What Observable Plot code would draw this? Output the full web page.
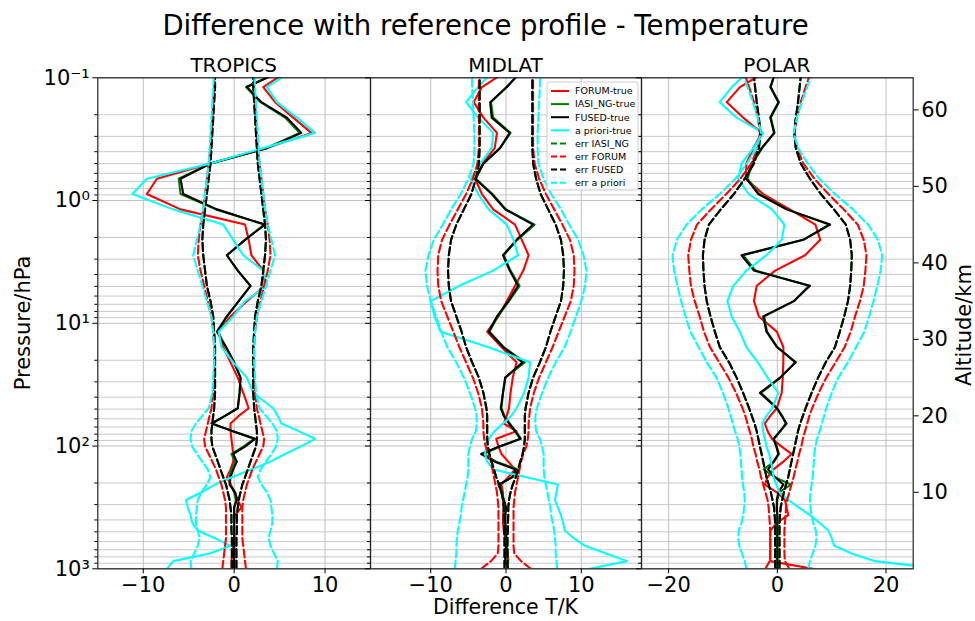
<!DOCTYPE html>
<html>
<head>
<meta charset="utf-8">
<script src="https://cdn.jsdelivr.net/npm/d3@7"></script>
<script src="https://cdn.jsdelivr.net/npm/@observablehq/plot@0.6"></script>
<style>
  html, body { margin: 0; padding: 0; background: #fff; }
  #fig { position: relative; width: 975px; height: 621px; font-family: "DejaVu Sans", sans-serif; }
  #fig svg { position: absolute; left: 0; top: 0; background: transparent; overflow: visible; }
</style>
</head>
<body>
<div id="fig"></div>
<script>
// Retrieval pressure levels (hPa), surface to top
const pressureLevels = [1000, 866, 751, 650, 563, 488, 423, 366, 317, 275, 238, 206, 179, 155, 134, 116, 101, 87.3, 75.6, 65.5, 56.8,
  49.2, 36.9, 27.7, 20.8, 15.6, 11.7, 8.79, 6.60, 4.95, 3.72, 2.79, 2.09, 1.57, 1.18, 0.885, 0.664, 0.499, 0.374, 0.281, 0.211, 0.158, 0.119, 0.089];

// TROPICS: retrieved minus true temperature (K)
const tropicsForum = [-0.3, -0.3, -0.2, -0.1, 0, 0, 0, 0.1, 0.8, 0.4, 0.1, -0.4, -0.8, -0.4, -0.1, -0.1, -0.2, -0.3, -0.4, -0.4, 0.5,
  1.6, 1.0, 0.4, -0.4, -1.2, -1.7, -0.4, 1.4, 3.4, 3.2, 1.9, 1.6, 1.2, -5.9, -9.6, -8.5, -2.6, 3.6, 8.5, 6.5, 4.5, 3.2, 5.8];
const tropicsIasi = [0, 0, 0, 0, 0, 0, 0, 0, 0, 0.2, 0.0, -0.4, -0.5, -0.3, 0.1, -0.3, 1.0, 2.2, -0.2, -2.4, -1.0,
  0.4, 0.6, 0.7, 0.0, -0.9, -1.8, -0.8, 0.5, 1.8, 0.4, -0.8, 1.2, 3.3, -2.0, -5.9, -6.1, -2.6, 3.5, 7.2, 5.6, 2.9, 1.3, 5.0];
const tropicsFused = [0, 0, 0, 0, 0, 0, 0, 0, 0, 0.3, 0.1, -0.5, -0.4, -0.1, 0.3, -0.1, 1.2, 2.3, -0.1, -2.5, -1.0,
  0.4, 0.6, 0.7, 0.0, -0.9, -1.9, -0.8, 0.5, 1.8, 0.4, -0.8, 1.2, 3.4, -1.9, -5.6, -5.9, -2.6, 3.6, 7.4, 5.8, 3.0, 1.4, 5.1];
const tropicsApriori = [-7.4, -6.7, -2.7, -0.4, -2.1, -4.0, -4.6, -4.8, -5.1, -5.3, -3.6, -2.1, -0.2, 1.9, 4.0, 5.6, 7.3, 8.9, 7.1, 5.2, 4.8,
  4.3, 2.1, 1.4, -0.1, -1.4, -1.7, -0.1, 1.2, 3.6, 3.2, 1.0, -0.1, -1.2, -6.7, -11.2, -9.6, -2.6, 3.2, 8.9, 6.9, 4.7, 3.6, 6.2];
// TROPICS: estimated errors (K)
const tropicsErrFused = [0.25, 0.25, 0.25, 0.25, 0.25, 0.3, 0.3, 0.3, 0.4, 0.5, 0.7, 0.9, 1.2, 1.5, 1.8, 2.1, 2.4, 2.5, 2.5, 2.4, 2.3,
  2.2, 2.1, 2.1, 2.1, 2.1, 2.2, 2.3, 2.6, 3.0, 3.2, 3.4, 3.5, 3.4, 3.2, 3.0, 2.8, 2.6, 2.5, 2.4, 2.3, 2.2, 2.1, 2.1];
const tropicsErrIasi = tropicsErrFused;
const tropicsErrForum = [1.3, 1.2, 1.1, 1.0, 0.9, 0.9, 0.9, 0.9, 0.9, 1.0, 1.2, 1.4, 1.7, 2.0, 2.4, 2.8, 3.2, 3.3, 3.1, 2.9, 2.7,
  2.5, 2.3, 2.2, 2.2, 2.2, 2.3, 2.5, 2.9, 3.3, 3.7, 4.0, 3.9, 3.7, 3.4, 3.2, 3.0, 2.8, 2.6, 2.5, 2.4, 2.3, 2.2, 2.2];
const tropicsErrApriori = [4.7, 4.8, 4.4, 4.0, 3.8, 4.0, 4.2, 4.2, 4.1, 4.0, 3.6, 3.0, 2.6, 2.9, 3.5, 4.1, 4.6, 4.8, 4.7, 4.2, 3.5,
  2.8, 2.4, 2.3, 2.2, 2.2, 2.3, 2.5, 3.0, 3.5, 4.0, 4.5, 4.1, 3.7, 3.4, 3.2, 3.0, 2.8, 2.7, 2.6, 2.5, 2.4, 2.3, 2.2];

// MIDLAT
const midlatForum = [0.1, 0.3, 0.2, 0.1, -0.1, -0.3, -0.4, -0.4, -0.3, -0.4, -0.4, -0.6, 0.3, 1.2, 0.3, -0.6, -1.0, -1.3, 1.4, -0.3, 0.1,
  0.4, 0.6, 0.9, 1.4, -0.6, -2.5, -1.0, 0.1, 1.2, 2.3, 3.0, 2.1, 1.2, -1.7, -3.2, -4.1, -3.1, -1.5, -1.2, -3.0, -4.3, -3.2, 0.0];
const midlatIasi = [0.3, -0.1, 0, 0, 0, 0, -0.1, -0.1, 0, -0.3, -0.5, -0.9, 0.9, 1.6, -1.3, -3.0, -0.8, 2.0, 1.3, 0.5, -0.2,
  -0.6, -0.4, -0.1, 2.5, -0.3, -2.2, -1.1, 0.4, 1.8, 0.6, -0.3, 1.5, 3.8, 0.0, -1.8, -4.0, -3.0, -0.8, 0.6, -1.7, -2.0, 0.1, 2.0];
const midlatFused = [0.3, -0.1, 0, 0, 0, 0, -0.1, -0.1, 0, -0.3, -0.6, -1.0, 0.8, 1.3, -1.5, -3.3, -0.9, 1.9, 1.2, 0.4, -0.3,
  -0.7, -0.4, -0.1, 2.2, -0.4, -2.3, -1.2, 0.3, 1.6, 0.5, -0.4, 1.4, 3.6, -0.1, -1.9, -4.1, -3.0, -0.8, 0.5, -1.9, -2.1, 0.1, 2.0];
const midlatApriori = [11.1, 16.1, 13.3, 10.5, 9.0, 7.8, 7.6, 7.3, 6.9, 6.5, 6.7, 6.9, 2.6, -1.7, -2.5, -2.8, -2.6, -2.3, -1.5, -0.4, 0.7,
  1.4, 2.4, 3.0, 3.2, -2.4, -8.7, -9.5, -10.0, -6.2, -1.7, 1.6, 1.0, 0.1, -2.3, -3.7, -4.7, -3.4, -1.9, -1.7, -3.7, -5.3, -3.7, -1.8];
const midlatErrFused = [0.2, 0.2, 0.2, 0.2, 0.2, 0.25, 0.25, 0.3, 0.3, 0.4, 0.6, 0.9, 1.3, 1.6, 1.9, 2.2, 2.4, 2.5, 2.5, 2.5, 2.5,
  2.6, 3.0, 3.6, 4.5, 5.3, 5.9, 6.6, 7.3, 7.6, 7.7, 7.6, 7.3, 6.6, 5.6, 4.6, 4.0, 3.6, 3.5, 3.5, 3.5, 3.5, 3.5, 3.5];
const midlatErrIasi = midlatErrFused;
const midlatErrForum = [3.3, 2.0, 1.1, 1.0, 1.0, 1.0, 1.0, 1.0, 1.0, 1.1, 1.2, 1.4, 1.6, 1.8, 2.0, 2.3, 2.7, 2.9, 3.0, 3.0, 3.1,
  3.2, 3.7, 4.4, 5.3, 6.2, 7.0, 7.8, 8.6, 9.0, 9.1, 9.0, 8.5, 7.5, 6.4, 5.3, 4.4, 3.8, 3.6, 3.6, 3.6, 3.6, 3.6, 3.6];
const midlatErrApriori = [6.8, 6.7, 6.6, 6.6, 6.5, 6.4, 6.2, 6.0, 5.9, 5.7, 5.5, 5.3, 5.1, 5.0, 5.0, 5.0, 4.8, 4.5, 4.0, 3.9, 3.9,
  4.1, 4.8, 5.6, 6.6, 7.8, 8.6, 9.3, 10.0, 10.5, 10.7, 10.3, 9.6, 8.4, 7.3, 6.0, 5.0, 4.3, 4.2, 4.2, 4.3, 4.4, 4.5, 4.5];

// POLAR
const polarForum = [6.5, -1.3, -1.3, -1.3, -1.3, -1.3, -0.1, 2.0, 1.7, 1.4, -0.1, -2.3, -1.8, -0.7, 1.1, 2.6, 0.8, -1.0, -1.8, -2.3, -1.3,
  -0.1, 0.8, 1.0, 1.1, 1.1, -0.1, -3.4, -4.3, -3.8, -0.4, 5.1, 7.9, 7.0, 2.3, -2.6, -5.8, -5.7, -4.4, -2.9, -6.3, -9.3, -6.9, -2.1];
const polarIasi = [0, 0, 0, 0, 0, 0, 0, 0, -0.1, 0.0, 0.3, 2.5, -0.5, -2.5, -0.6, 0.3, -0.1, -0.6, 0.6, 1.5, 0.9,
  0.0, -3.0, 0.6, 3.3, 0.0, -1.9, -2.4, 3.1, 5.8, -4.0, -6.3, 4.7, 9.5, 1.8, -3.3, -5.5, -4.6, -2.8, -0.5, -1.2, 0.3, -1.2, -0.4];
const polarFused = [0, 0, 0, 0, 0, 0, 0, 0, -0.1, -0.1, 0.2, 1.1, -0.4, -1.7, -0.7, 0.2, -0.2, -0.7, 0.5, 1.7, 0.8,
  -0.1, -3.2, 0.5, 3.4, -0.1, -2.0, -2.6, 3.0, 6.0, -4.3, -6.6, 4.8, 9.7, 1.7, -3.5, -5.7, -4.7, -2.9, -0.6, -1.3, 0.2, -1.3, -0.3];
const polarApriori = [30, 18.0, 13.7, 10.5, 10.0, 9.4, 7.8, 6.0, 4.0, 2.0, 0.4, -0.2, -0.7, -0.9, -1.2, -1.5, -2.0, -2.3, -2.6, -2.8, -2.0,
  -1.0, 0.2, -1.8, -3.6, -5.7, -6.9, -8.4, -9.2, -8.1, -5.7, -2.0, 0.8, 1.3, -1.0, -5.3, -7.2, -6.6, -4.4, -2.6, -7.5, -10.6, -8.4, -5.3];
const polarErrFused = [0.4, 0.4, 0.4, 0.4, 0.4, 0.4, 0.4, 0.5, 0.6, 0.9, 1.2, 1.6, 2.0, 2.3, 2.6, 2.9, 3.2, 3.5, 3.8, 4.2, 4.7,
  5.2, 6.3, 7.5, 8.9, 10.6, 11.5, 12.3, 13.0, 13.4, 13.6, 13.7, 13.4, 12.6, 10.4, 8.0, 6.0, 4.3, 3.4, 3.1, 3.4, 3.8, 4.1, 4.4];
const polarErrIasi = polarErrFused;
const polarErrForum = [2.2, 1.4, 1.3, 1.3, 1.3, 1.3, 1.4, 1.5, 1.6, 1.8, 2.2, 2.6, 3.0, 3.3, 3.7, 4.0, 4.4, 4.7, 5.1, 5.5, 5.9,
  6.4, 7.6, 9.0, 10.7, 12.4, 13.5, 14.3, 15.2, 15.9, 16.2, 16.4, 15.9, 14.8, 12.2, 9.4, 6.8, 4.8, 3.6, 3.2, 3.6, 4.3, 5.2, 6.2];
const polarErrApriori = [5.7, 6.0, 6.5, 7.0, 7.2, 7.1, 6.6, 6.3, 6.1, 6.0, 6.1, 6.3, 6.5, 6.6, 6.7, 6.8, 7.0, 7.3, 7.8, 8.2, 8.6,
  9.0, 10.0, 11.2, 13.0, 14.5, 16.0, 16.9, 17.7, 18.4, 19.0, 19.3, 18.5, 16.7, 13.9, 10.6, 7.7, 5.6, 3.8, 3.0, 3.6, 4.5, 5.5, 6.5];

// Axis ticks
const pressureMajorTicks = [0.1, 1, 10, 100, 1000];
const pressureMajorLabels = ["10\u207B\u00B9", "10\u2070", "10\u00B9", "10\u00B2", "10\u00B3"];
const pressureMinorTicks = [0.2, 0.3, 0.4, 0.5, 0.6, 0.7, 0.8, 0.9, 2, 3, 4, 5, 6, 7, 8, 9,
  20, 30, 40, 50, 60, 70, 80, 90, 200, 300, 400, 500, 600, 700, 800, 900];
const altitudeRangeKm = [0, 64.2];
const altitudeTicks = [10, 20, 30, 40, 50, 60];

const seriesNames = ["FORUM-true", "IASI_NG-true", "FUSED-true", "a priori-true", "err IASI_NG", "err FORUM", "err FUSED", "err a priori"];
const seriesColors = ["#ff0000", "#008000", "#000000", "#00ffff", "#008000", "#ff0000", "#000000", "#00ffff"];
const seriesDashed = [false, false, false, false, true, true, true, true];

const panels = [
  {name: "TROPICS", left: 97.3, right: 370, xDomain: [-15, 15], xTicks: [-10, 0, 10],
   lines: [tropicsForum, tropicsIasi, tropicsFused, tropicsApriori], errs: [tropicsErrIasi, tropicsErrForum, tropicsErrFused, tropicsErrApriori]},
  {name: "MIDLAT", left: 370, right: 641, xDomain: [-18, 18], xTicks: [-10, 0, 10],
   lines: [midlatForum, midlatIasi, midlatFused, midlatApriori], errs: [midlatErrIasi, midlatErrForum, midlatErrFused, midlatErrApriori]},
  {name: "POLAR", left: 641, right: 912.7, xDomain: [-25, 25], xTicks: [-20, 0, 20],
   lines: [polarForum, polarIasi, polarFused, polarApriori], errs: [polarErrIasi, polarErrForum, polarErrFused, polarErrApriori]}
];

const W = 975, H = 621, MT = 77.3, MB = 52.7;
const FONT = "DejaVu Sans, sans-serif";
const DASH = "8,3.5";
const LW = 2.1;
const fig = document.getElementById("fig");
const rowsOf = vals => pressureLevels.map((p, i) => ({p, v: vals[i]}));

panels.forEach((cfg, k) => {
  const solid = (vals, color) => Plot.line(rowsOf(vals), {x: "v", y: "p", stroke: color, strokeWidth: LW, clip: true});
  // each error profile is drawn as a symmetric envelope around zero
  const envelope = (vals, color) => [-1, 1].map(sign =>
    Plot.line(rowsOf(vals), {x: d => sign * d.v, y: "p", stroke: color, strokeWidth: LW, strokeDasharray: DASH, clip: true}));
  const chart = Plot.plot({
    width: W, height: H,
    marginTop: MT, marginBottom: MB, marginLeft: cfg.left, marginRight: W - cfg.right,
    style: {background: "transparent", fontFamily: FONT, overflow: "visible"},
    x: {domain: cfg.xDomain},
    y: {type: "log", domain: [1000, 0.1]},
    marks: [
      Plot.gridY(pressureMinorTicks, {stroke: "#c8c8c8", strokeOpacity: 1, strokeWidth: 1}),
      Plot.gridY(pressureMajorTicks, {stroke: "#c0c0c0", strokeOpacity: 1, strokeWidth: 1}),
      Plot.gridX(cfg.xTicks, {stroke: "#c0c0c0", strokeOpacity: 1, strokeWidth: 1}),
      ...cfg.lines.map((vals, j) => solid(vals, seriesColors[j])),
      ...cfg.errs.flatMap((vals, j) => envelope(vals, seriesColors[4 + j])),
      Plot.frame({stroke: "#222", strokeWidth: 1.2}),
      Plot.axisX(cfg.xTicks, {tickSize: 5, tickPadding: 3, fontSize: 21, label: null}),
      Plot.axisY(pressureMajorTicks, {anchor: "left", tickSize: 5, tickPadding: 3, fontSize: 21, label: null,
        tickFormat: k === 0 ? (d => pressureMajorLabels[pressureMajorTicks.indexOf(d)]) : (() => "")}),
      Plot.axisY(pressureMinorTicks, {anchor: "left", tickSize: 3, label: null, tickFormat: () => ""})
    ]
  });
  fig.append(chart);
});

// altitude axis on the right of the last panel
const last = panels[panels.length - 1];
fig.append(Plot.plot({
  width: W, height: H,
  marginTop: MT, marginBottom: MB, marginLeft: last.left, marginRight: W - last.right,
  style: {background: "transparent", fontFamily: FONT, overflow: "visible"},
  y: {domain: altitudeRangeKm},
  marks: [Plot.axisY(altitudeTicks, {anchor: "right", tickSize: 5, tickPadding: 3, fontSize: 21, label: null})]
}));

// titles, axis labels and legend
const svg = d3.select(fig).append("svg").attr("width", W).attr("height", H)
  .style("font-family", FONT);
svg.append("text").attr("x", W / 2 - 2).attr("y", 35).attr("text-anchor", "middle")
  .attr("font-size", 27.5).text("Difference with reference profile - Temperature");
panels.forEach(cfg => {
  svg.append("text").attr("x", (cfg.left + cfg.right) / 2).attr("y", 72).attr("text-anchor", "middle")
    .attr("font-size", 20).text(cfg.name);
});
svg.append("text").attr("transform", "translate(30,323) rotate(-90)").attr("text-anchor", "middle")
  .attr("font-size", 21).text("Pressure/hPa");
svg.append("text").attr("transform", "translate(971,325) rotate(-90)").attr("text-anchor", "middle")
  .attr("font-size", 21).text("Altitude/km");
svg.append("text").attr("x", (panels[1].left + panels[1].right) / 2).attr("y", 614).attr("text-anchor", "middle")
  .attr("font-size", 20.5).text("Difference T/K");

const legend = svg.append("g");
legend.append("rect").attr("x", 547).attr("y", 82).attr("width", 91).attr("height", 108).attr("rx", 2.5)
  .attr("fill", "#fff").attr("fill-opacity", 0.8).attr("stroke", "#cccccc").attr("stroke-width", 1);
seriesNames.forEach((name, i) => {
  const y = 91 + i * 13.1;
  legend.append("line").attr("x1", 551).attr("x2", 569).attr("y1", y).attr("y2", y)
    .attr("stroke", seriesColors[i]).attr("stroke-width", 2)
    .attr("stroke-dasharray", seriesDashed[i] ? "6,3" : null);
  legend.append("text").attr("x", 575).attr("y", y).attr("dy", "0.35em")
    .attr("font-size", 9.5).text(name);
});
</script>
</body>
</html>
